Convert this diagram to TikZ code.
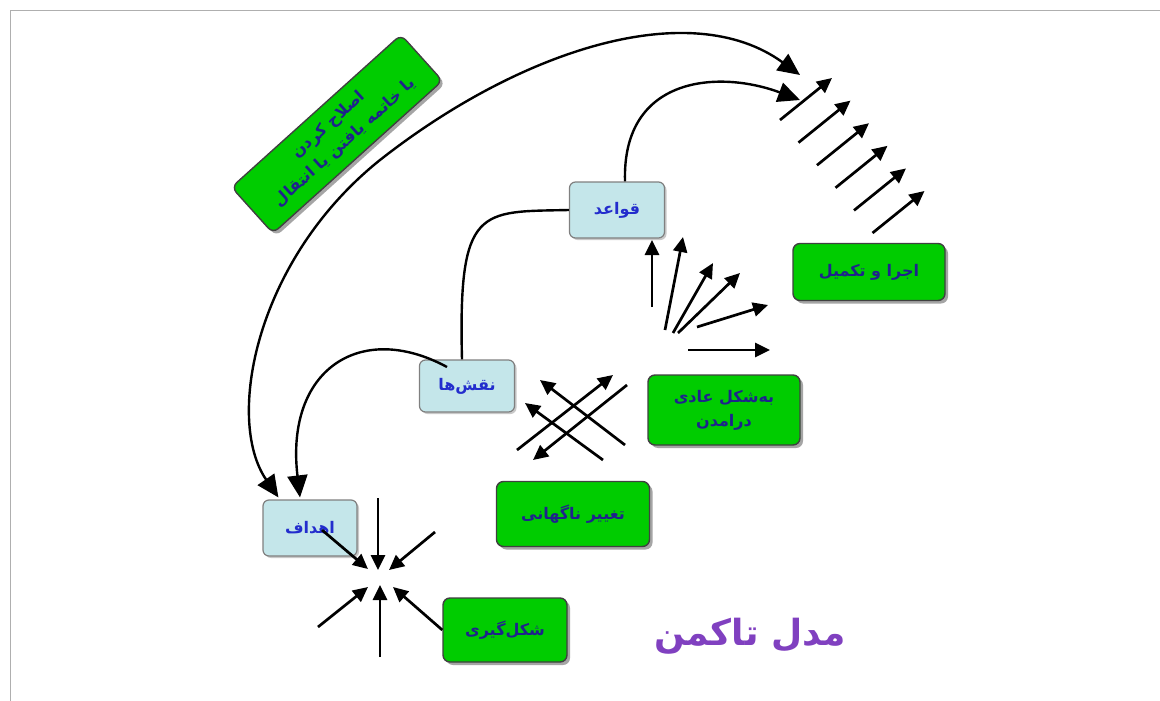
\documentclass[tikz,border=0pt]{standalone}
\usepackage{fontspec}
\TeXXeTstate=1
\newfontfamily\fa[Script=Arabic]{DejaVu Sans}
\usetikzlibrary{arrows.meta,shadows}
\definecolor{boxgreen}{RGB}{0,204,0}
\definecolor{boxblue}{RGB}{196,230,234}
\definecolor{inkblue}{RGB}{30,35,140}
\definecolor{labelblue}{RGB}{35,45,205}
\definecolor{titlepurple}{RGB}{128,64,192}
\definecolor{framegray}{RGB}{175,175,175}
\tikzset{
  stage/.style={draw=black!75, line width=1.4pt, fill=boxgreen, rounded corners=7pt,
    drop shadow={shadow xshift=3pt, shadow yshift=-3pt, opacity=0.5, fill=black!70},
    font=\fa\bfseries\fontsize{16}{24}\selectfont, text=inkblue, align=center, inner sep=0pt},
  phase/.style={draw=black!50, line width=1.2pt, fill=boxblue, rounded corners=6pt,
    drop shadow={shadow xshift=2pt, shadow yshift=-2pt, opacity=0.35, fill=black!60},
    font=\fa\bfseries\fontsize{16}{20}\selectfont, text=labelblue, inner sep=0pt},
  arr/.style={line width=2.7pt, -{Triangle[length=15pt,width=14pt]}},
  link/.style={line width=2.4pt},
  bigtip/.style={line width=2.4pt, -{Triangle[length=22pt,width=20pt]}},
}
\begin{document}
\begin{tikzpicture}[x=1pt,y=-1pt]
\useasboundingbox (0,0) rectangle (1160,701);
\fill[white] (0,0) rectangle (1160,701);
\draw[framegray, line width=0.8pt] (10,701) -- (10,10) -- (1160,10);

% stages of the model
\node[stage, rotate=42, minimum width=228pt, minimum height=62pt] (adjourn) at (337,134)
  {\beginR اصلاح کردن\endR\\\beginR یا خاتمه یافتن یا انتقال\endR};
\node[stage, minimum width=152pt, minimum height=57pt] (performing) at (869,272) {\beginR اجرا و تکمیل\endR};
\node[stage, minimum width=152pt, minimum height=70pt] (norming) at (724,410)
  {\beginR به‌شکل عادی\endR\\\beginR درامدن\endR};
\node[stage, minimum width=153pt, minimum height=65pt] (storming) at (573,514) {\beginR تغییر ناگهانی\endR};
\node[stage, minimum width=124pt, minimum height=64pt] (forming) at (505,630) {\beginR شکل‌گیری\endR};

\node[phase, minimum width=95pt, minimum height=56pt] (rules) at (617,210) {\beginR قواعد\endR};
\node[phase, minimum width=95pt, minimum height=52pt] (roles) at (467,386) {\beginR نقش‌ها\endR};
\node[phase, minimum width=94pt, minimum height=56pt] (goals) at (310,528) {\beginR اهداف\endR};

\node[font=\fa\bfseries\fontsize{36}{42}\selectfont, text=titlepurple] (title) at (750,636) {\beginR مدل تاکمن\endR};

% curved links between phases
\coordinate (topTip) at (800,75);
\coordinate (midTip) at (800,100);
\coordinate (arcMid) at (380,160);
\draw[bigtip, {Triangle[length=22pt,width=20pt]}-{Triangle[length=22pt,width=20pt]}]
  ([xshift=16pt,yshift=2pt]goals.north west) .. controls (225,420) and (255,260) .. (arcMid)
  .. controls (520,50) and (690,-5) .. (topTip);
\draw[bigtip] ([xshift=8pt]rules.north) .. controls (622,75) and (720,70) .. (midTip);
\draw[link] ([xshift=-5pt]roles.north) .. controls (458,205) and (480,212) .. (rules.west);
\coordinate (rolesOut) at (447,367);
\draw[bigtip] (rolesOut) .. controls (360,320) and (285,370) .. ([xshift=-10pt,yshift=2pt]goals.north);

% parallel arrows of performing
\foreach \i in {0,...,5}{
  \coordinate (ps\i) at ({780+18.5*\i},{120+22.6*\i});
  \coordinate (pe\i) at ({832+18.5*\i},{78+22.6*\i});
  \draw[arr] (ps\i) -- (pe\i);
}

% fan of norming
\coordinate (f0a) at (652,307); \coordinate (f0b) at (652,240);
\coordinate (f1a) at (665,330); \coordinate (f1b) at (683,237);
\coordinate (f2a) at (673,333); \coordinate (f2b) at (713,263);
\coordinate (f3a) at (678,333); \coordinate (f3b) at (740,273);
\coordinate (f4a) at (697,327); \coordinate (f4b) at (768,305);
\coordinate (f5a) at (688,350); \coordinate (f5b) at (770,350);
\foreach \k in {0,...,5}{ \draw[arr] (f\k a) -- (f\k b); }

% crossing arrows of storming
\coordinate (c1a) at (517,450); \coordinate (c1b) at (613,375);
\coordinate (c2a) at (627,385); \coordinate (c2b) at (533,460);
\coordinate (c3a) at (625,445); \coordinate (c3b) at (540,380);
\coordinate (c4a) at (603,460); \coordinate (c4b) at (525,403);
\foreach \k in {1,...,4}{ \draw[arr] (c\k a) -- (c\k b); }

% converging arrows of forming
\coordinate (v1a) at (378,498); \coordinate (v1b) at (378,570);
\coordinate (d1a) at (322,530); \coordinate (d1b) at (368,569);
\coordinate (d2a) at (435,532); \coordinate (d2b) at (389,570);
\coordinate (v2a) at (380,657); \coordinate (v2b) at (380,585);
\coordinate (d3a) at (318,627); \coordinate (d3b) at (368,587);
\draw[arr] (v1a) -- (v1b);
\draw[arr] (d1a) -- (d1b);
\draw[arr] (d2a) -- (d2b);
\draw[arr] (v2a) -- (v2b);
\draw[arr] (d3a) -- (d3b);
\draw[arr] (forming.west) -- (393,587);
\end{tikzpicture}
\end{document}
